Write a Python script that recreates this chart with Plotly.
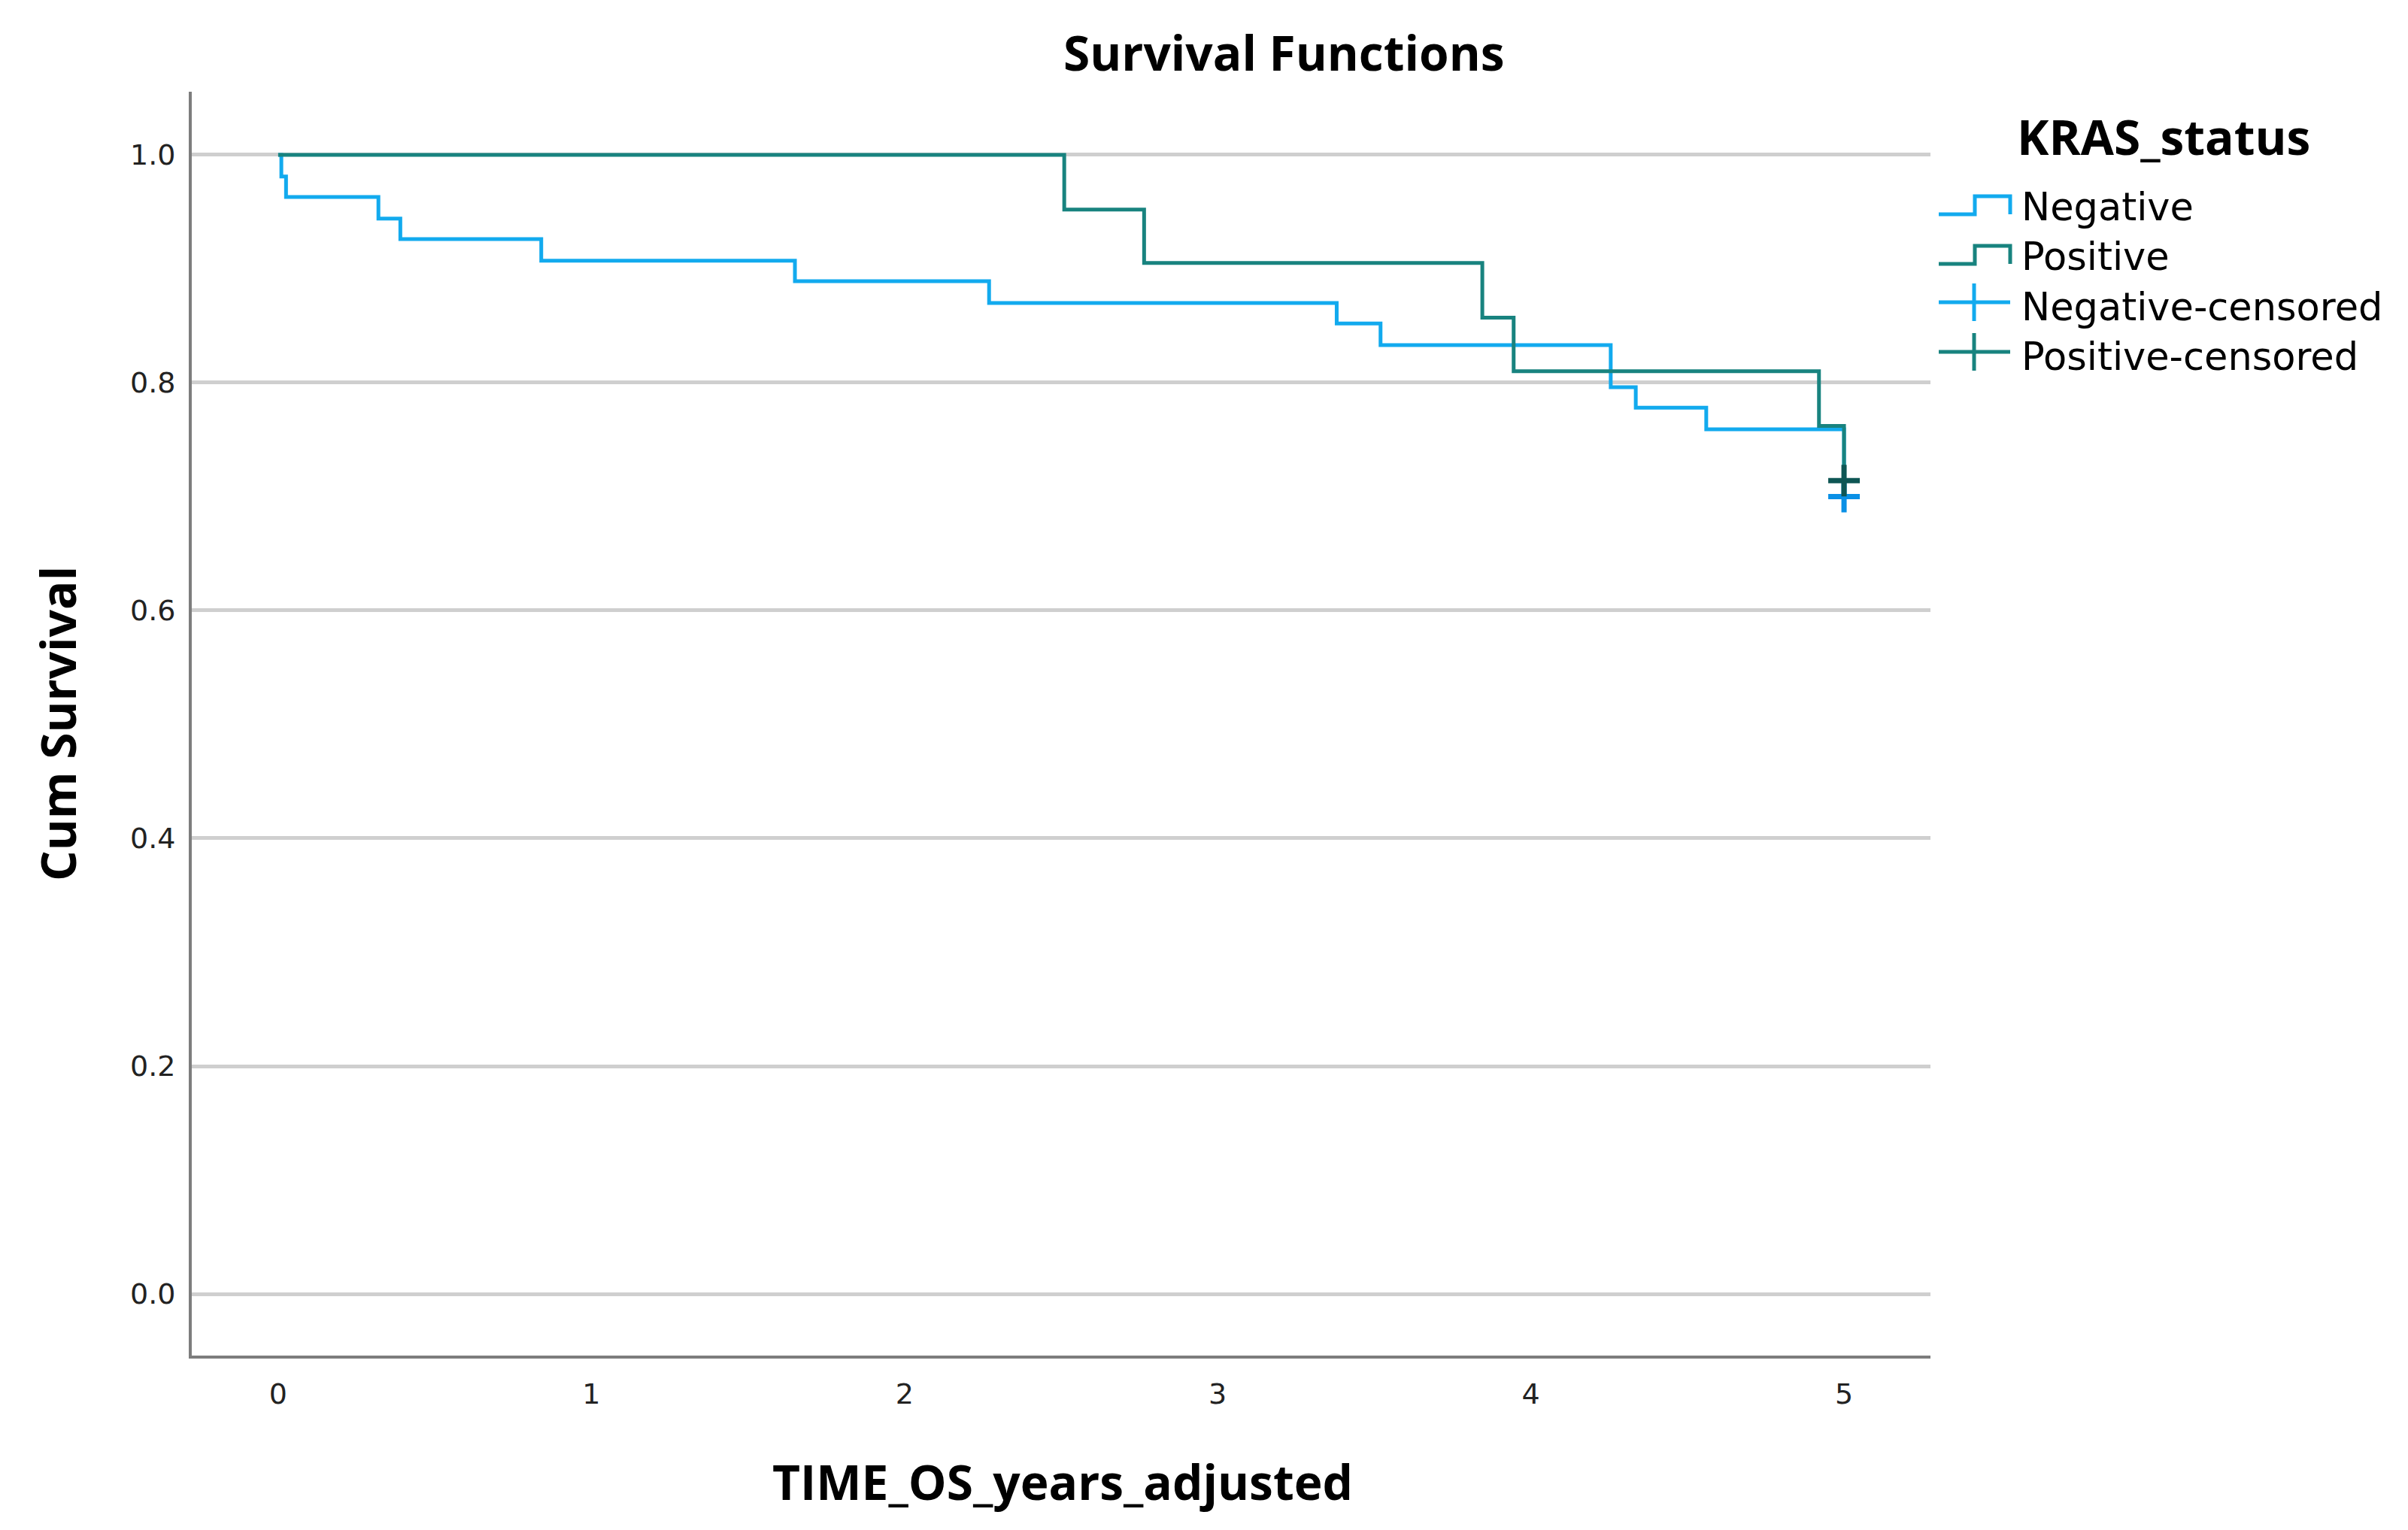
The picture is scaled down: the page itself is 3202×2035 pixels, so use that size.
import plotly.graph_objects as go

# ---------------- data ----------------
neg_time = [0.0, 0.01, 0.025, 0.32, 0.39, 0.84, 1.65, 2.27, 3.38, 3.52, 4.255, 4.335, 4.56, 5.0]
neg_surv = [1.0, 0.981, 0.963, 0.944, 0.926, 0.907, 0.889, 0.870, 0.852, 0.833, 0.796, 0.778, 0.759, 0.700]
pos_time = [0.0, 2.51, 2.765, 3.845, 3.945, 4.92, 5.0]
pos_surv = [1.0, 0.952, 0.905, 0.857, 0.810, 0.762, 0.714]
neg_cens_time = [5.0]
neg_cens_surv = [0.700]
pos_cens_time = [5.0]
pos_cens_surv = [0.714]

x_ticks = [0, 1, 2, 3, 4, 5]
y_ticks = [0.0, 0.2, 0.4, 0.6, 0.8, 1.0]
y_tick_text = ["0.0", "0.2", "0.4", "0.6", "0.8", "1.0"]

legend_title = "KRAS_status"
legend_labels = ["Negative", "Positive", "Negative-censored", "Positive-censored"]

# ---------------- styling ----------------
W, H = 3202, 2035
X0, X1, Y0, Y1 = 255, 2567, 122, 1803   # plot area in pixels
NEG = "#12aaee"
POS = "#18837f"
NEG_MK = "#0a90e6"
POS_MK = "#0e5654"
BOLD = "Open Sans"
LEG_FONT = 51

def px(x):
    return (x - X0) / (X1 - X0)

def py(y):
    return (Y1 - y) / (Y1 - Y0)

fig = go.Figure()
fig.add_trace(go.Scatter(x=neg_time, y=neg_surv, mode="lines", line=dict(color=NEG, width=5, shape="hv"),
                         showlegend=False, name="Negative"))
fig.add_trace(go.Scatter(x=pos_time, y=pos_surv, mode="lines", line=dict(color=POS, width=5, shape="hv"),
                         showlegend=False, name="Positive"))
fig.add_trace(go.Scatter(x=neg_cens_time, y=neg_cens_surv, mode="markers",
                         marker=dict(symbol="cross-thin", size=30, line=dict(color=NEG_MK, width=7)),
                         showlegend=False, name="Negative-censored"))
fig.add_trace(go.Scatter(x=pos_cens_time, y=pos_cens_surv, mode="markers",
                         marker=dict(symbol="cross-thin", size=30, line=dict(color=POS_MK, width=7)),
                         showlegend=False, name="Positive-censored"))

shapes = []
annotations = []

# title & axis titles
annotations.append(dict(text="<b>Survival Functions</b>", x=px(1707), y=py(69), xref="paper", yref="paper",
                        showarrow=False, xanchor="center", yanchor="middle",
                        font=dict(family=BOLD, size=64, color="#000")))
annotations.append(dict(text="<b>TIME_OS_years_adjusted</b>", x=px(1413), y=py(1970), xref="paper", yref="paper",
                        showarrow=False, xanchor="center", yanchor="middle",
                        font=dict(family=BOLD, size=64, color="#000")))
annotations.append(dict(text="<b>Cum Survival</b>", x=px(76), y=py(962), xref="paper", yref="paper",
                        showarrow=False, xanchor="center", yanchor="middle", textangle=-90,
                        font=dict(family=BOLD, size=64, color="#000")))

# manual legend
annotations.append(dict(text="<b>" + legend_title + "</b>", x=px(2680), y=py(182), xref="paper", yref="paper",
                        showarrow=False, xanchor="left", yanchor="middle",
                        font=dict(family=BOLD, size=64, color="#000")))
row_y = [276, 342, 408, 474]
row_col = [NEG, POS, NEG, POS]
annotations.append(dict(text="<br>".join(legend_labels), x=px(2686), y=py(sum(row_y) / len(row_y)),
                        xref="paper", yref="paper", showarrow=False, xanchor="left", yanchor="middle",
                        align="left", font=dict(family="DejaVu Sans", size=LEG_FONT, color="#000")))
for yc, col, kind in zip(row_y, row_col, ["step", "step", "cens", "cens"]):
    if kind == "step":
        pts = [(2578, yc + 9), (2626, yc + 9), (2626, yc - 15), (2673, yc - 15), (2673, yc + 9)]
    else:
        pts = [(2578, yc - 6), (2673, yc - 6)]
    path = "M " + " L ".join(f"{px(a):.5f},{py(b):.5f}" for a, b in pts)
    shapes.append(dict(type="path", path=path, xref="paper", yref="paper",
                       line=dict(color=col, width=5)))
    if kind == "cens":
        path2 = f"M {px(2625):.5f},{py(yc - 31):.5f} L {px(2625):.5f},{py(yc + 19):.5f}"
        shapes.append(dict(type="path", path=path2, xref="paper", yref="paper",
                           line=dict(color=col, width=5)))

fig.update_layout(
    width=W, height=H,
    margin=dict(l=X0, r=W - X1, t=Y0, b=H - Y1, pad=0),
    paper_bgcolor="white", plot_bgcolor="white",
    shapes=shapes, annotations=annotations,
    showlegend=False,
)
fig.update_xaxes(range=[-0.276, 5.276], tickvals=x_ticks, ticktext=[str(t) for t in x_ticks],
                 showgrid=False, zeroline=False, showline=True, linecolor="#7d7d7d", linewidth=4,
                 ticks="", ticklabelstandoff=14,
                 tickfont=dict(family="DejaVu Sans", size=38, color="#222"))
fig.update_yaxes(range=[-0.0541, 1.0554], tickvals=y_ticks, ticktext=y_tick_text,
                 showgrid=True, gridcolor="#cfcfcf", gridwidth=5, zeroline=False,
                 showline=True, linecolor="#7d7d7d", linewidth=4,
                 ticks="", ticklabelstandoff=10,
                 tickfont=dict(family="DejaVu Sans", size=38, color="#222"))

fig.write_html("out.html", config={"displayModeBar": False},
               post_script="document.body.style.margin='0';")
